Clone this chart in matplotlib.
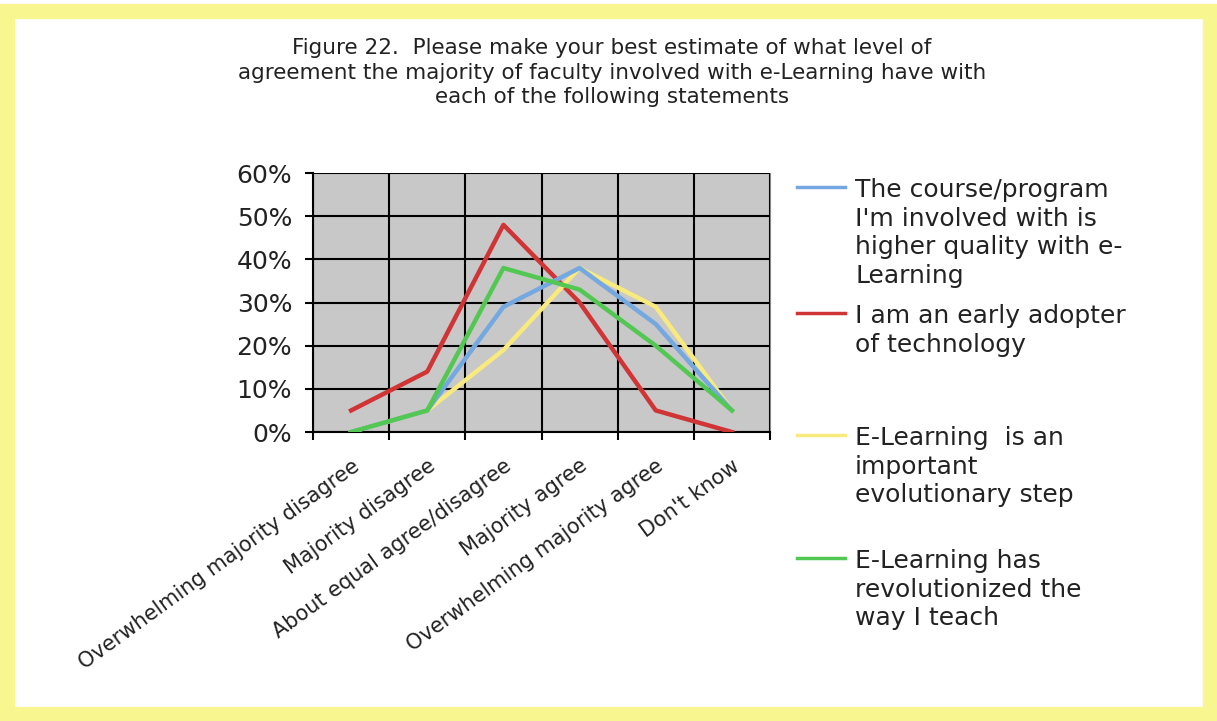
import numpy as np
import matplotlib
matplotlib.use('Agg')
import matplotlib.pyplot as plt
import matplotlib.transforms as mtransforms
from matplotlib.lines import Line2D
from matplotlib.patches import Rectangle

# categories and series values (percent)
categories = ['Overwhelming majority disagree', 'Majority disagree',
              'About equal agree/disagree', 'Majority agree',
              'Overwhelming majority agree', "Don't know"]
quality = [0, 5, 29, 38, 25, 5]
early_adopter = [5, 14, 48, 30, 5, 0]
evolutionary = [0, 5, 19, 38, 29, 5]
revolutionized = [0, 5, 38, 33, 20, 5]

labels = ["The course/program\nI'm involved with is\nhigher quality with e-\nLearning",
          "I am an early adopter\nof technology",
          "E-Learning  is an\nimportant\nevolutionary step",
          "E-Learning has\nrevolutionized the\nway I teach"]
colors = ['#74a8e0', '#d03434', '#f8ea7c', '#52c853']

plt.rcParams['font.family'] = ['DejaVu Sans']

fig = plt.figure(figsize=(12.17, 7.21), dpi=100)
fig.patch.set_facecolor('white')
# yellow frame
fig.patches.append(Rectangle((0.006, 0.01), 0.988, 0.975, transform=fig.transFigure,
                             fill=False, edgecolor='#f8f68e', linewidth=11, zorder=0))

fig.text(0.503, 0.947,
         "Figure 22.  Please make your best estimate of what level of\n"
         "agreement the majority of faculty involved with e-Learning have with\n"
         "each of the following statements",
         ha='center', va='top', fontsize=15.5, color='#222222', linespacing=1.28)

ax = fig.add_axes([0.2572, 0.4008, 0.3755, 0.3592])
ax.set_facecolor('#c8c8c8')
x = np.arange(len(categories))
series = [quality, early_adopter, evolutionary, revolutionized]
order = [1, 2, 0, 3]
for i in order:
    ax.plot(x, series[i], color=colors[i], linewidth=3.2, zorder=3 + order.index(i))

ax.set_xlim(-0.5, 5.5)
ax.set_ylim(0, 60)
ax.set_yticks(range(0, 61, 10))
ax.set_yticklabels([f'{v}%' for v in range(0, 61, 10)], fontsize=18, color='#222222')
ax.set_xticks(x)
ax.set_xticklabels(categories, rotation=36, ha='right', rotation_mode='anchor',
                   fontsize=15, color='#222222')
shift = mtransforms.ScaledTranslation(-10 / 100, 0, fig.dpi_scale_trans)
for lbl in ax.get_xticklabels():
    lbl.set_transform(lbl.get_transform() + shift)
ax.set_xticks(np.arange(-0.5, 6, 1), minor=True)
ax.tick_params(axis='x', which='major', length=0, pad=17)
ax.tick_params(axis='x', which='minor', length=6, width=1.5, direction='out')
ax.tick_params(axis='y', length=6, width=1.5, direction='out', pad=9)
ax.grid(True, which='minor', axis='x', color='black', linewidth=1.5)
ax.grid(True, which='major', axis='y', color='black', linewidth=1.5)
ax.set_axisbelow(True)
for s in ['left', 'bottom']:
    ax.spines[s].set_linewidth(1.5)
    ax.spines[s].set_color('black')
ax.spines['top'].set_visible(False)
ax.spines['right'].set_color('#888888')

# legend drawn beside the plot
leg_y = [187, 313, 435, 558]
for i, (lab, yy) in enumerate(zip(labels, leg_y)):
    yf = 1 - yy / 721
    fig.add_artist(Line2D([797 / 1217, 845 / 1217], [yf, yf], color=colors[i],
                          linewidth=2.5, transform=fig.transFigure))
    fig.text(855 / 1217, yf + 9 / 721, lab, ha='left', va='top', fontsize=18,
             color='#222222', linespacing=1.24)

fig.savefig('out.png', dpi=100)
